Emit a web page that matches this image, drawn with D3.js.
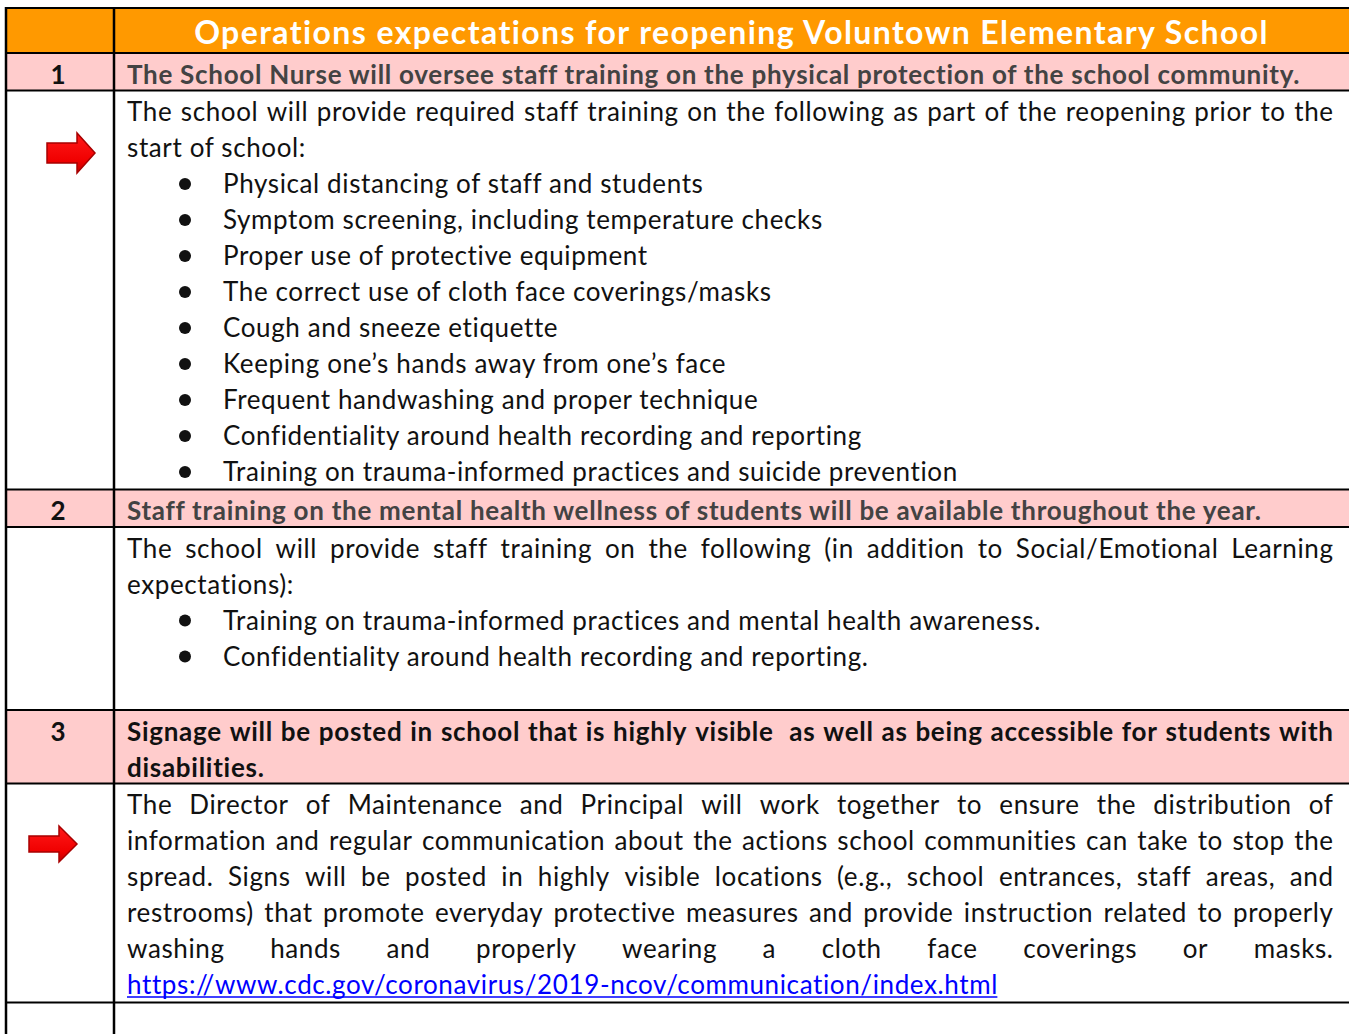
<!DOCTYPE html>
<html>
<head>
<meta charset="utf-8">
<script src="https://cdn.jsdelivr.net/npm/d3@7"></script>
<style>
  html, body { margin: 0; padding: 0; background: #ffffff; }
  svg { display: block; }
</style>
</head>
<body>
<svg id="chart" width="1349" height="1034"></svg>
<script>
// ---------- DATA ----------
const title = "Operations expectations for reopening Voluntown Elementary School";
const sectionNumbers = ["1", "2", "3"];
const sectionHeadings = [
  ["The School Nurse will oversee staff training on the physical protection of the school community."],
  ["Staff training on the mental health wellness of students will be available throughout the year."],
  ["Signage will be posted in school that is highly visible  as well as being accessible for students with",
   "disabilities."]
];
const introLines = [
  ["The school will provide required staff training on the following as part of the reopening prior to the",
   "start of school:"],
  ["The school will provide staff training on the following (in addition to Social/Emotional Learning",
   "expectations):"],
  ["The Director of Maintenance and Principal will work together to ensure the distribution of",
   "information and regular communication about the actions school communities can take to stop the",
   "spread. Signs will be posted in highly visible locations (e.g., school entrances, staff areas, and",
   "restrooms) that promote everyday protective measures and provide instruction related to properly",
   "washing hands and properly wearing a cloth face coverings or masks."]
];
const lastLineJustified = [false, false, true];
const bulletItems = [
  ["Physical distancing of staff and students",
   "Symptom screening, including temperature checks",
   "Proper use of protective equipment",
   "The correct use of cloth face coverings/masks",
   "Cough and sneeze etiquette",
   "Keeping one\u2019s hands away from one\u2019s face",
   "Frequent handwashing and proper technique",
   "Confidentiality around health recording and reporting",
   "Training on trauma-informed practices and suicide prevention"],
  ["Training on trauma-informed practices and mental health awareness.",
   "Confidentiality around health recording and reporting."],
  []
];
const blankLinesAfter = [0, 1, 0];
const sectionLinks = [null, null, "https://www.cdc.gov/coronavirus/2019-ncov/communication/index.html"];
const hasArrow = [true, false, true];

// ---------- LAYOUT / STYLE ----------
const W = 1349, H = 1034;
const tLeft = 6, colX = 114, tRight = 1349;
const tTop = 8, titleH = 45;
const lineH = 36, headPad = 1.5, bodyPad = 3;
const textX = 127, textRight = 1333;
const bulletX = 185, bulletTextX = 223;
const baseOff = 30.5;
const fontFam = "Lato, 'Open Sans', sans-serif";
const fontSize = 26;
const spacing = 0.62;
const boldSpacing = 0.72;
const headingFill = ["#434343", "#434343", "#111111"];
const arrowBoxes = [
  {x0: 47, x1: 95, y0: 133, y1: 173, headX: 77, sh0: 143, sh1: 163},
  null,
  {x0: 29, x1: 77, y0: 826, y1: 862, headX: 59, sh0: 836, sh1: 852}
];

const svg = d3.select("#chart");
svg.append("rect").attr("width", W).attr("height", H).attr("fill", "#fff");

const defs = svg.append("defs");
const grad = defs.append("linearGradient").attr("id", "arrowGrad")
  .attr("x1", 0).attr("y1", 0).attr("x2", 0).attr("y2", 1);
grad.append("stop").attr("offset", "0%").attr("stop-color", "#FF1A1A");
grad.append("stop").attr("offset", "70%").attr("stop-color", "#F00000");
grad.append("stop").attr("offset", "100%").attr("stop-color", "#C00000");

const rows = [];
let yCur = tTop;
rows.push({kind: "title", y0: yCur, h: titleH});
yCur += titleH;
sectionNumbers.forEach((num, i) => {
  const hh = sectionHeadings[i].length * lineH + headPad;
  rows.push({kind: "heading", idx: i, y0: yCur, h: hh});
  yCur += hh;
  const n = introLines[i].length + bulletItems[i].length + (sectionLinks[i] ? 1 : 0) + blankLinesAfter[i];
  const bh = n * lineH + bodyPad;
  rows.push({kind: "body", idx: i, y0: yCur, h: bh});
  yCur += bh;
});
rows.push({kind: "empty", y0: yCur, h: H - yCur + 10});

const gBg = svg.append("g");
const gText = svg.append("g");
const gGrid = svg.append("g");

gBg.selectAll("rect").data(rows).join("rect")
  .attr("x", tLeft).attr("y", d => d.y0)
  .attr("width", tRight - tLeft).attr("height", d => d.h)
  .attr("fill", d => d.kind === "title" ? "#FF9900" : d.kind === "heading" ? "#FFCCCC" : "#FFFFFF");

function applyAttrs(sel, attrs) { Object.entries(attrs).forEach(([k, v]) => sel.attr(k, v)); return sel; }

// draws a line of text; when justified, words are spread across the given width
function drawLine(g, str, x, yb, width, justify, attrs) {
  if (!justify) {
    const t = applyAttrs(g.append("text").attr("x", x).attr("y", yb), attrs).text(str);
    return t.node().getComputedTextLength();
  }
  const lg = g.append("g");
  const words = str.split(" ");
  const nodes = words.map(w => applyAttrs(lg.append("text").attr("y", yb), attrs).text(w));
  const widths = nodes.map(s => s.node().getComputedTextLength());
  const total = d3.sum(widths);
  const gap = (width - total + attrs["letter-spacing"]) / (words.length - 1);
  let cx = x;
  nodes.forEach((s, k) => { s.attr("x", cx); cx += widths[k] + gap; });
  return width;
}

const textAttrs = {"font-family": fontFam, "font-size": fontSize, "fill": "#111111", "letter-spacing": spacing};

rows.forEach(r => {
  if (r.kind === "title") {
    gText.append("text")
      .attr("x", (colX + tRight) / 2).attr("y", r.y0 + 36)
      .attr("text-anchor", "middle")
      .attr("font-family", fontFam).attr("font-weight", 700).attr("font-size", 32)
      .attr("letter-spacing", 1.4)
      .attr("fill", "#FFFFFF").text(title);
  } else if (r.kind === "heading") {
    const i = r.idx;
    gText.append("text")
      .attr("x", (tLeft + colX) / 2 - 2).attr("y", r.y0 + baseOff)
      .attr("text-anchor", "middle")
      .attr("font-family", fontFam).attr("font-weight", 700).attr("font-size", fontSize)
      .attr("fill", "#111111").text(sectionNumbers[i]);
    const lines = sectionHeadings[i];
    lines.forEach((ln, k) => {
      drawLine(gText, ln, textX, r.y0 + baseOff + k * lineH, textRight - textX,
        lines.length > 1 && k < lines.length - 1,
        {"font-family": fontFam, "font-size": fontSize, "font-weight": 700, "fill": headingFill[i],
         "letter-spacing": boldSpacing});
    });
  } else if (r.kind === "body") {
    const i = r.idx;
    let line = 0;
    const intro = introLines[i];
    intro.forEach((ln, k) => {
      const just = k < intro.length - 1 || lastLineJustified[i];
      drawLine(gText, ln, textX, r.y0 + baseOff + line * lineH, textRight - textX, just, textAttrs);
      line++;
    });
    bulletItems[i].forEach(b => {
      const yb = r.y0 + baseOff + line * lineH;
      gText.append("circle").attr("cx", bulletX).attr("cy", yb - 9).attr("r", 6).attr("fill", "#111111");
      drawLine(gText, b, bulletTextX, yb, 0, false, textAttrs);
      line++;
    });
    if (sectionLinks[i]) {
      const yb = r.y0 + baseOff + line * lineH;
      const wl = drawLine(gText, sectionLinks[i], textX, yb, 0, false,
        Object.assign({}, textAttrs, {"fill": "#0000FF"}));
      gText.append("line").attr("x1", textX).attr("x2", textX + wl - spacing)
        .attr("y1", yb + 3).attr("y2", yb + 3)
        .attr("stroke", "#0000FF").attr("stroke-width", 1.5);
      line++;
    }
    const ab = arrowBoxes[i];
    if (hasArrow[i] && ab) {
      const cy = (ab.y0 + ab.y1) / 2;
      const pts = [[ab.x0, ab.sh0], [ab.headX, ab.sh0], [ab.headX, ab.y0], [ab.x1, cy],
                   [ab.headX, ab.y1], [ab.headX, ab.sh1], [ab.x0, ab.sh1]];
      gText.append("path")
        .attr("d", d3.line()(pts) + "Z")
        .attr("fill", "url(#arrowGrad)").attr("stroke", "#A80000").attr("stroke-width", 1.5)
        .attr("stroke-linejoin", "miter");
    }
  }
});

const hYs = rows.map(r => r.y0);
gGrid.selectAll("line.h").data(hYs).join("line")
  .attr("x1", tLeft).attr("x2", tRight)
  .attr("y1", d => d).attr("y2", d => d)
  .attr("stroke", "#000").attr("stroke-width", 2);
gGrid.selectAll("line.v").data([tLeft, colX]).join("line")
  .attr("x1", d => d).attr("x2", d => d)
  .attr("y1", tTop - 1).attr("y2", H)
  .attr("stroke", "#000").attr("stroke-width", 2.5);
</script>
</body>
</html>
